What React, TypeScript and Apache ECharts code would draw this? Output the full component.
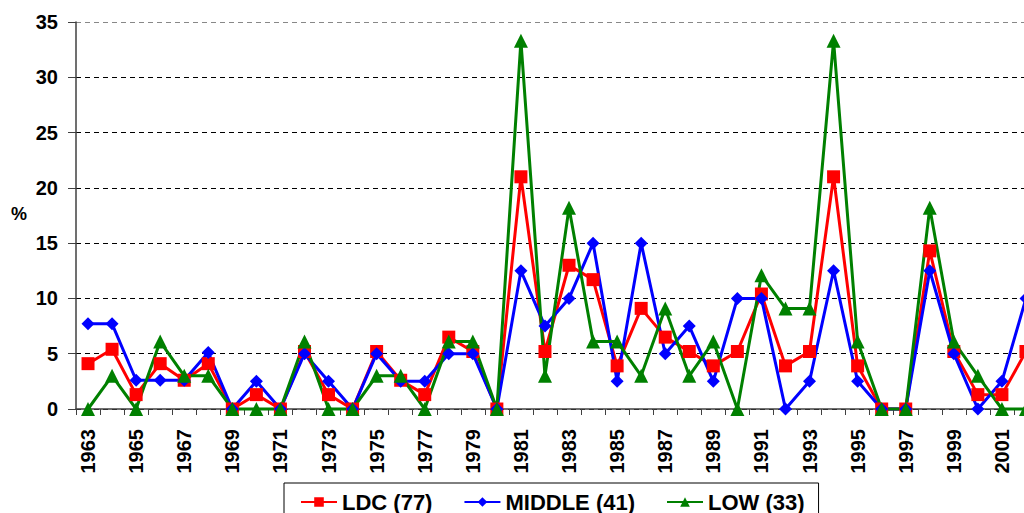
import React, { useEffect, useRef } from "react";
import * as echarts from "echarts";

const years = [
  "1963", "1964", "1965", "1966", "1967", "1968", "1969", "1970", "1971", "1972",
  "1973", "1974", "1975", "1976", "1977", "1978", "1979", "1980", "1981", "1982",
  "1983", "1984", "1985", "1986", "1987", "1988", "1989", "1990", "1991", "1992",
  "1993", "1994", "1995", "1996", "1997", "1998", "1999", "2000", "2001", "2002",
];

const ldc = [
  4.1, 5.4, 1.3, 4.1, 2.6, 4.1, 0, 1.3, 0, 5.2,
  1.3, 0, 5.2, 2.6, 1.3, 6.5, 5.2, 0, 21.0, 5.2,
  13.0, 11.7, 3.9, 9.1, 6.5, 5.2, 3.9, 5.2, 10.4, 3.9,
  5.2, 21.0, 3.9, 0, 0, 14.3, 5.2, 1.3, 1.3, 5.2,
];

const middle = [
  7.7, 7.7, 2.6, 2.6, 2.6, 5.1, 0, 2.5, 0, 5.0,
  2.5, 0, 5.0, 2.5, 2.5, 5.0, 5.0, 0, 12.5, 7.5,
  10.0, 15.0, 2.5, 15.0, 5.0, 7.5, 2.5, 10.0, 10.0, 0,
  2.5, 12.5, 2.5, 0, 0, 12.5, 5.0, 0, 2.5, 10.0,
];

const low = [
  0, 3.0, 0, 6.1, 3.0, 3.0, 0, 0, 0, 6.1,
  0, 0, 3.0, 3.0, 0, 6.1, 6.1, 0, 33.3, 3.0,
  18.2, 6.1, 6.1, 3.0, 9.1, 3.0, 6.1, 0, 12.1, 9.1,
  9.1, 33.3, 6.1, 0, 0, 18.2, 6.1, 3.0, 0, 0,
];

const seriesNames = ["LDC (77)", "MIDDLE (41)", "LOW (33)"];
const yTicks = { min: 0, max: 35, interval: 5 };

const FONT = "'Liberation Sans', Arial, sans-serif";

export default function App() {
  const ref = useRef<HTMLDivElement>(null);

  useEffect(() => {
    if (!ref.current) return;
    const chart = echarts.init(ref.current, null, { renderer: "svg" });
    const mk = (name: string, data: number[], color: string, symbol: string, size: number) => ({
      name,
      type: "line",
      data,
      symbol,
      symbolSize: size,
      showAllSymbol: true,
      clip: false,
      lineStyle: { color, width: 3 },
      itemStyle: { color, borderWidth: 0 },
      emphasis: { disabled: true },
    });
    chart.setOption({
      animation: false,
      grid: {
        left: 76,
        top: 22,
        bottom: 104,
        width: 962,
        containLabel: false,
        outerBoundsMode: "none",
      },
      xAxis: {
        type: "category",
        data: years,
        boundaryGap: true,
        axisLine: { show: true, lineStyle: { color: "#404040", width: 1.5 } },
        axisTick: { show: true, interval: 0, length: 6, lineStyle: { color: "#404040" } },
        axisLabel: {
          interval: 1,
          rotate: 90,
          margin: 20,
          fontFamily: FONT,
          fontWeight: "bold",
          fontSize: 20,
          color: "#000",
        },
        splitLine: { show: false },
      },
      yAxis: {
        type: "value",
        min: yTicks.min,
        max: yTicks.max,
        interval: yTicks.interval,
        axisLine: { show: true, lineStyle: { color: "#404040", width: 1.5 } },
        axisTick: { show: true, inside: false, length: 8, lineStyle: { color: "#404040" } },
        axisLabel: {
          margin: 18,
          fontFamily: FONT,
          fontWeight: "bold",
          fontSize: 20,
          color: "#000",
        },
        splitLine: {
          show: true,
          lineStyle: {
            color: ["#000", "#000", "#000", "#000", "#000", "#000", "#000", "#888"],
            type: [5, 4],
            width: 1,
          },
        },
      },
      legend: {
        left: 284,
        top: 483,
        orient: "horizontal",
        padding: [8, 14, 8, 16],
        itemGap: 31,
        itemWidth: 36,
        itemHeight: 12,
        borderColor: "#000",
        borderWidth: 1,
        textStyle: { fontFamily: FONT, fontWeight: "bold", fontSize: 22, color: "#000" },
        data: seriesNames,
      },
      graphic: [
        {
          type: "text",
          left: 11,
          top: 205,
          style: { text: "%", fontFamily: FONT, fontWeight: "bold", fontSize: 18, fill: "#000" },
        },
      ],
      series: [
        mk(seriesNames[0], ldc, "#FF0000", "rect", 13),
        mk(seriesNames[1], middle, "#0000FF", "diamond", 13),
        mk(seriesNames[2], low, "#008000", "triangle", 14),
      ],
    });
    return () => chart.dispose();
  }, []);

  return (
    <div
      ref={ref}
      style={{ position: "absolute", left: 0, top: 0, width: 1024, height: 513, background: "#fff" }}
    />
  );
}
